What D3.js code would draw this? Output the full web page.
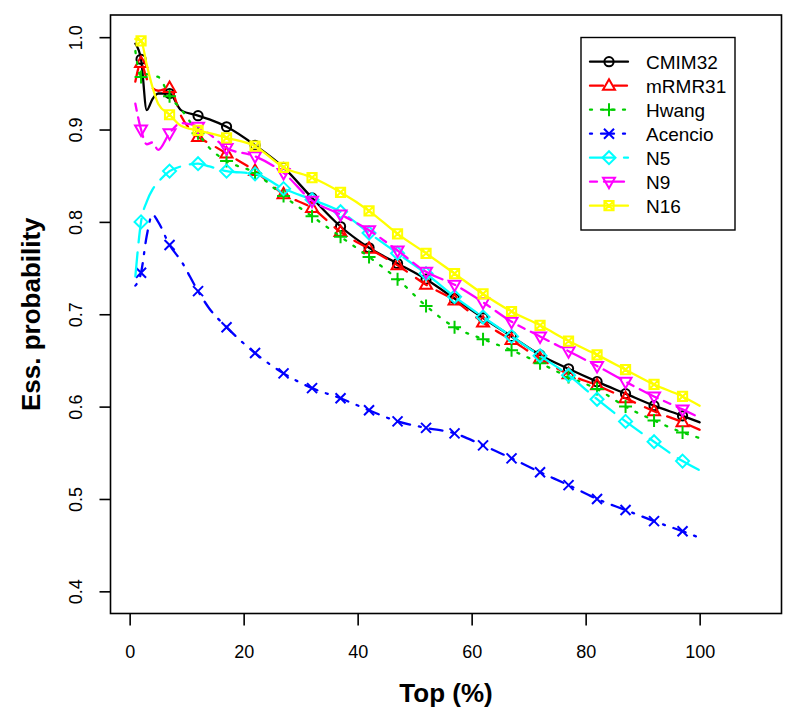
<!DOCTYPE html>
<html><head><meta charset="utf-8">
<script src="https://cdn.jsdelivr.net/npm/d3@7"></script>
<style>html,body{margin:0;padding:0;background:#fff;}svg{display:block;font-family:"Liberation Sans",Arial,sans-serif;}</style>
</head><body>
<script>
// ---- data ----
const topPct = [1,2,3,4,5,7,9,12,14,17,22,27,32,37,42,47,52,57,62,67,72,77,82,87,92,97,100];
const cmim32  = [0.993,0.976,0.921,0.933,0.939,0.939,0.921,0.915,0.911,0.903,0.883,0.859,0.826,0.795,0.772,0.755,0.738,0.717,0.696,0.676,0.656,0.641,0.627,0.614,0.601,0.590,0.583];
const mrmr31  = [0.952,0.972,0.955,0.945,0.942,0.945,0.915,0.892,0.885,0.874,0.855,0.830,0.815,0.789,0.771,0.753,0.732,0.715,0.691,0.672,0.652,0.635,0.623,0.609,0.595,0.583,0.575];
const hwang   = [0.985,0.957,0.960,0.958,0.957,0.936,0.922,0.896,0.880,0.866,0.853,0.828,0.806,0.784,0.762,0.738,0.709,0.686,0.673,0.661,0.647,0.632,0.619,0.600,0.585,0.572,0.566];
const acencio = [0.731,0.745,0.785,0.808,0.800,0.775,0.758,0.725,0.706,0.686,0.658,0.636,0.620,0.609,0.596,0.584,0.577,0.571,0.558,0.544,0.529,0.515,0.500,0.488,0.476,0.465,0.458];
const n5      = [0.741,0.800,0.822,0.835,0.843,0.855,0.860,0.863,0.860,0.855,0.852,0.836,0.824,0.811,0.788,0.766,0.744,0.719,0.697,0.676,0.655,0.634,0.608,0.584,0.562,0.541,0.531];
const n9      = [0.928,0.900,0.884,0.886,0.878,0.896,0.907,0.903,0.895,0.880,0.871,0.853,0.823,0.808,0.791,0.769,0.746,0.732,0.713,0.692,0.676,0.660,0.644,0.627,0.611,0.597,0.588];
const n16     = [0.998,0.996,0.970,0.946,0.928,0.916,0.904,0.899,0.896,0.891,0.882,0.859,0.848,0.832,0.812,0.787,0.766,0.744,0.722,0.703,0.688,0.671,0.656,0.640,0.624,0.611,0.601];
const seriesNames = ["CMIM32","mRMR31","Hwang","Acencio","N5","N9","N16"];
const seriesValues = [cmim32, mrmr31, hwang, acencio, n5, n9, n16];
const xTicks = [0,20,40,60,80,100];
const yTicks = [0.4,0.5,0.6,0.7,0.8,0.9,1.0];

// ---- styles ----
const colors = ["#000000","#FF0000","#00CD00","#0000FF","#00FFFF","#FF00FF","#FFFF00"];
const dashes = [null,"13,11","2,9","2,9,13,9","24,10","7,7,20,7",null];
const shapes = ["circle","triangle","plus","cross","diamond","triangleDown","squareX"];

const W = 798, H = 727;
const svg = d3.select("body").append("svg").attr("width", W).attr("height", H);
const x = d3.scaleLinear().domain([1 - 0.04*109, 110 + 0.04*109]).range([110.5, 781.5]);
const y = d3.scaleLinear().domain([0.4 - 0.024, 1.0 + 0.024]).range([613.5, 15]);

// plot box
svg.append("rect").attr("x",110.5).attr("y",15).attr("width",671).attr("height",598.5)
  .attr("fill","none").attr("stroke","#000").attr("stroke-width",1.6);

// axes
const xAxis = d3.axisBottom(x).tickValues(xTicks).tickSize(12).tickPadding(20).tickFormat(d3.format("d"));
const gx = svg.append("g").attr("transform","translate(0,613.5)").call(xAxis);
gx.select(".domain").attr("d", `M${x(0)},0H${x(100)}`).attr("stroke-width",1.4).attr("stroke","none");
gx.selectAll(".tick line").attr("stroke-width",1.6);
gx.selectAll(".tick text").attr("font-size","18px").attr("font-family","'Liberation Sans',Arial,sans-serif").attr("fill","#000");

const yAxis = d3.axisLeft(y).tickValues(yTicks).tickSize(11).tickFormat(d3.format(".1f"));
const gy = svg.append("g").attr("transform","translate(110.5,0)").call(yAxis);
gy.select(".domain").attr("stroke","none");
gy.selectAll(".tick line").attr("stroke-width",1.6);
gy.selectAll(".tick text").attr("font-size","18px").attr("font-family","'Liberation Sans',Arial,sans-serif").attr("fill","#000")
  .attr("x",0).attr("dy",0).attr("text-anchor","middle")
  .attr("transform","translate(-29,0) rotate(-90)");

// axis titles
svg.append("text").attr("x",446).attr("y",702).attr("text-anchor","middle")
  .attr("font-size","26px").attr("font-weight","bold").text("Top (%)");
svg.append("text").attr("transform",`translate(40,${(15+613.5)/2}) rotate(-90)`).attr("text-anchor","middle")
  .attr("font-size","26px").attr("font-weight","bold").text("Ess. probability");

// marker drawing
function drawMarker(g, shape, cx, cy, color) {
  const s = 5;
  const st = {fill:"none", stroke:color, "stroke-width":2};
  let el;
  if (shape === "circle") el = g.append("circle").attr("cx",cx).attr("cy",cy).attr("r",4.6);
  else if (shape === "triangle") el = g.append("path").attr("d",`M${cx},${cy-6.5}L${cx+6},${cy+4}L${cx-6},${cy+4}Z`);
  else if (shape === "triangleDown") el = g.append("path").attr("d",`M${cx},${cy+6.5}L${cx+6},${cy-4}L${cx-6},${cy-4}Z`);
  else if (shape === "plus") el = g.append("path").attr("d",`M${cx-6.5},${cy}H${cx+6.5}M${cx},${cy-6.5}V${cy+6.5}`);
  else if (shape === "cross") el = g.append("path").attr("d",`M${cx-s},${cy-s}L${cx+s},${cy+s}M${cx-s},${cy+s}L${cx+s},${cy-s}`);
  else if (shape === "diamond") el = g.append("path").attr("d",`M${cx},${cy-6.5}L${cx+6.5},${cy}L${cx},${cy+6.5}L${cx-6.5},${cy}Z`);
  else if (shape === "squareX") el = g.append("path").attr("d",`M${cx-4.6},${cy-4.6}H${cx+4.6}V${cy+4.6}H${cx-4.6}ZM${cx-4.6},${cy-4.6}L${cx+4.6},${cy+4.6}M${cx-4.6},${cy+4.6}L${cx+4.6},${cy-4.6}`);
  Object.entries(st).forEach(([k,v]) => el.attr(k,v));
}

// series
const line = d3.line().x(d => x(d[0])).y(d => y(d[1])).curve(d3.curveMonotoneX);
const plot = svg.append("g");
seriesValues.forEach((vals, i) => {
  const pts = topPct.map((t, j) => [t, vals[j]]);
  const g = plot.append("g");
  g.append("path").datum(pts).attr("d", line).attr("fill","none")
    .attr("stroke", colors[i]).attr("stroke-width", 2.3)
    .attr("stroke-dasharray", dashes[i]).attr("stroke-linecap","round").attr("stroke-linejoin","round");
  pts.filter(p => (p[0] - 2) % 5 === 0).forEach(p => drawMarker(g, shapes[i], x(p[0]), y(p[1]), colors[i]));
});

// legend
const lg = svg.append("g");
lg.append("rect").attr("x",581).attr("y",37.5).attr("width",154).attr("height",192.5)
  .attr("fill","#fff").attr("stroke","#000").attr("stroke-width",1.4);
seriesNames.forEach((name, i) => {
  const ry = 61.7 + i*24;
  lg.append("line").attr("x1",590).attr("x2",628).attr("y1",ry).attr("y2",ry)
    .attr("stroke",colors[i]).attr("stroke-width",2.3).attr("stroke-dasharray",dashes[i]).attr("stroke-linecap","round");
  drawMarker(lg, shapes[i], 609, ry, colors[i]);
  lg.append("text").attr("x",646).attr("y",ry+7).attr("font-size","19px").attr("fill","#000").text(name);
});
</script>
</body></html>
